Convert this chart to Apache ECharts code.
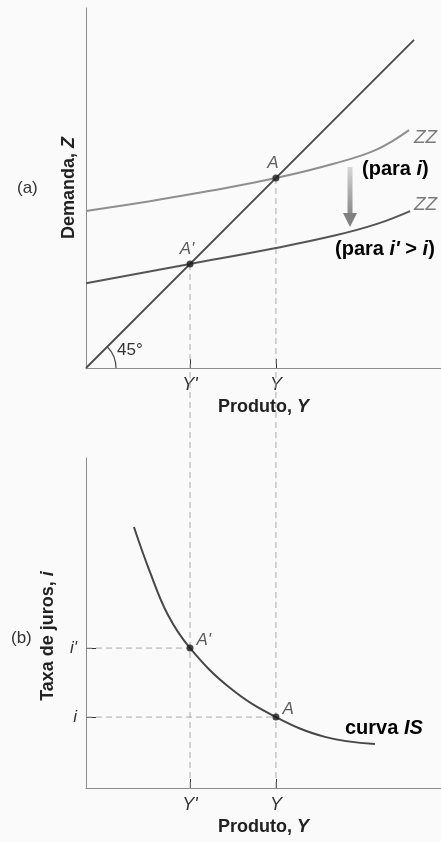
<!DOCTYPE html>
<html>
<head>
<meta charset="utf-8">
<script src="https://cdn.jsdelivr.net/npm/echarts@6/dist/echarts.min.js"></script>
<style>
  html, body { margin: 0; padding: 0; background: #fafafa; }
  #chart { width: 441px; height: 842px; }
</style>
</head>
<body>
<div id="chart"></div>
<script>
// Output levels on the horizontal axes: Y' and Y
const outputTicks = [29.3, 53.5];
const outputTickLabels = ["Y'", "Y"];
// Interest rates on the IS diagram: i' and i
const rateTicks = [42.4, 21.5];
const rateTickLabels = ["i'", "i"];

// Panel (a): 45-degree line and the two ZZ demand curves
const line45 = [[0, 0], [92.4, 92.4]];
const zzHigh = [[0, 44.2], [18, 47.0], [35, 49.9], [53.5, 53.5], [70, 57.6], [82, 61.6], [91, 67]];
const zzLow = [[0, 23.9], [29.3, 29.3], [53.5, 33.8], [70, 37.3], [82, 40.6], [91.3, 44.2]];
const eqTop = [[53.5, 53.5, 'A'], [29.3, 29.3, "A'"]];

// Panel (b): IS curve
const isCurve = [[13.5, 79.1], [18, 65.5], [23.1, 52.4], [29.3, 42.4], [40.6, 30.3], [53.5, 21.5], [67.3, 15.5], [81.4, 13.3]];
const eqBottom = [[29.3, 42.4, "A'"], [53.5, 21.5, 'A']];

// Layout
const FONT = '"Liberation Sans", Arial, Helvetica, sans-serif';
const LEFT = 86;
const TOP_A = 8, H_A = 360;          // panel (a) plot area
const TOP_B = 458, H_B = 330;        // panel (b) plot area
const X_MAX = 100;
const Z_MAX = H_A / (355 / X_MAX);   // equal pixel scale so the 45° line is drawn at 45°
const I_MAX = 100;
const GAP_UNITS = (TOP_B - (TOP_A + H_A)) / (H_B / I_MAX); // space between panels, in panel-(b) units

const guideStyle = { color: '#aaaaaa', width: 1, type: [6, 4] };

function lineSeries(data, x, y, style, extra) {
  return Object.assign({
    type: 'line', xAxisIndex: x, yAxisIndex: y, data: data,
    showSymbol: false, symbol: 'none', lineStyle: style, silent: true, z: 3
  }, extra || {});
}

function guide(data, idx, extra) {
  return lineSeries(data, idx, idx, guideStyle, Object.assign({ z: 1 }, extra || {}));
}

function tickLabel(values, labels) {
  return v => {
    const k = values.findIndex(t => Math.abs(t - v) < 1e-6);
    return k >= 0 ? labels[k] : '';
  };
}

function richSet(size) {
  return {
    b: { fontFamily: FONT, fontWeight: 'bold', fontSize: size, color: '#222' },
    bi: { fontFamily: FONT, fontWeight: 'bold', fontStyle: 'italic', fontSize: size, color: '#222' }
  };
}
const nameRich = richSet(18);
const noteRich = richSet(20);

function outputAxis(gridIndex) {
  return {
    type: 'value', gridIndex: gridIndex, min: 0, max: X_MAX,
    axisLine: { show: true, onZero: false, lineStyle: { color: '#8c8c8c', width: 1 } },
    axisTick: { show: true, inside: true, length: 9, customValues: outputTicks, lineStyle: { color: '#333', width: 1 } },
    axisLabel: {
      show: true, customValues: outputTicks, formatter: tickLabel(outputTicks, outputTickLabels),
      fontFamily: FONT, fontStyle: 'italic', fontSize: 18, color: '#333', margin: 8
    },
    splitLine: { show: false },
    name: '{b|Produto, }{bi|Y}', nameLocation: 'middle', nameGap: 30,
    nameTextStyle: { rich: nameRich }
  };
}

const option = {
  backgroundColor: '#fafafa',
  animation: false,
  grid: [
    { left: LEFT, top: TOP_A, width: 355, height: H_A },
    { left: LEFT, top: TOP_B, width: 355, height: H_B }
  ],
  xAxis: [outputAxis(0), outputAxis(1)],
  yAxis: [
    {
      type: 'value', gridIndex: 0, min: 0, max: Z_MAX,
      axisLine: { show: true, onZero: false, lineStyle: { color: '#8c8c8c', width: 1 } },
      axisTick: { show: false }, axisLabel: { show: false }, splitLine: { show: false },
      name: '{b|Demanda, }{bi|Z}', nameLocation: 'middle', nameRotate: 90, nameGap: 8,
      nameTextStyle: { rich: nameRich }
    },
    {
      type: 'value', gridIndex: 1, min: 0, max: I_MAX,
      axisLine: { show: true, onZero: false, lineStyle: { color: '#8c8c8c', width: 1 } },
      axisTick: { show: true, inside: true, length: 10, customValues: rateTicks, lineStyle: { color: '#333', width: 1 } },
      axisLabel: {
        show: true, customValues: rateTicks, formatter: tickLabel(rateTicks, rateTickLabels),
        fontFamily: FONT, fontStyle: 'italic', fontSize: 17, color: '#333', margin: 9
      },
      splitLine: { show: false },
      name: '{b|Taxa de juros, }{bi|i}', nameLocation: 'middle', nameRotate: 90, nameGap: 29,
      nameTextStyle: { rich: nameRich, padding: [0, 26, 0, 0] }
    }
  ],
  series: [
    // vertical guides from the equilibria in (a) down through (b)
    guide([[outputTicks[1], eqTop[0][1]], [outputTicks[1], 0]], 0),
    guide([[outputTicks[0], eqTop[1][1]], [outputTicks[0], 0]], 0),
    guide([[outputTicks[1], 0], [outputTicks[1], I_MAX + GAP_UNITS]], 1, { clip: false }),
    guide([[outputTicks[0], 0], [outputTicks[0], I_MAX + GAP_UNITS]], 1, { clip: false }),
    // horizontal guides to the interest-rate axis
    guide([[0, rateTicks[0]], [outputTicks[0], rateTicks[0]]], 1),
    guide([[0, rateTicks[1]], [outputTicks[1], rateTicks[1]]], 1),

    lineSeries(line45, 0, 0, { color: '#4a4a4a', width: 1.8 }),
    lineSeries(zzHigh, 0, 0, { color: '#8f8f8f', width: 2 }, { smooth: 0.4 }),
    lineSeries(zzLow, 0, 0, { color: '#555555', width: 2 }, { smooth: 0.4 }),
    lineSeries(isCurve, 1, 1, { color: '#474747', width: 2 }, { smooth: 0.4 }),

    {
      type: 'scatter', xAxisIndex: 0, yAxisIndex: 0, data: eqTop, symbolSize: 7, z: 5,
      itemStyle: { color: '#1a1a1a' },
      label: {
        show: true, position: 'top', distance: 3, offset: [-3, 0], formatter: p => p.data[2],
        fontFamily: FONT, fontStyle: 'italic', fontSize: 17, color: '#333'
      }
    },
    {
      type: 'scatter', xAxisIndex: 1, yAxisIndex: 1, data: eqBottom, symbolSize: 7, z: 5,
      itemStyle: { color: '#1a1a1a' },
      label: {
        show: true, position: 'right', distance: 3, offset: [0, -8], formatter: p => p.data[2],
        fontFamily: FONT, fontStyle: 'italic', fontSize: 17, color: '#333'
      }
    }
  ],
  graphic: [
    { type: 'text', left: 17, top: 180, style: { text: '(a)', font: '17px ' + FONT, fill: '#333' } },
    { type: 'text', left: 11, top: 630, style: { text: '(b)', font: '17px ' + FONT, fill: '#333' } },
    {
      type: 'arc', silent: true,
      shape: { cx: LEFT, cy: TOP_A + H_A, r: 30, startAngle: -Math.PI / 4, endAngle: 0, clockwise: true },
      style: { stroke: '#4a4a4a', lineWidth: 1.2, fill: null }
    },
    { type: 'text', left: 117, top: 342, style: { text: '45°', font: '17px ' + FONT, fill: '#333' } },
    { type: 'text', left: 414, top: 128, style: { text: 'ZZ', font: 'italic 19px ' + FONT, fill: '#7a7a7a' } },
    { type: 'text', left: 414, top: 195, style: { text: 'ZZ', font: 'italic 19px ' + FONT, fill: '#7a7a7a' } },
    {
      type: 'text', left: 362, top: 159,
      style: { text: '{b|(para }{bi|i}{b|)}', rich: noteRich }
    },
    {
      type: 'text', left: 335, top: 239,
      style: { text: '{b|(para }{bi|i\'}{b| > }{bi|i}{b|)}', rich: noteRich }
    },
    {
      type: 'text', left: 345, top: 718,
      style: { text: '{b|curva }{bi|IS}', rich: noteRich }
    },
    // downward shift arrow between the two ZZ curves
    {
      type: 'group', silent: true,
      children: [
        {
          type: 'rect', shape: { x: 347.5, y: 167, width: 5, height: 47 },
          style: {
            fill: { type: 'linear', x: 0, y: 0, x2: 0, y2: 1, colorStops: [{ offset: 0, color: '#d6d6d6' }, { offset: 1, color: '#8a8a8a' }] }
          }
        },
        {
          type: 'polygon', shape: { points: [[343, 213], [357, 213], [350, 227]] },
          style: { fill: '#808080' }
        }
      ]
    }
  ]
};

const chart = echarts.init(document.getElementById('chart'), null, { renderer: 'canvas' });
chart.setOption(option);
</script>
</body>
</html>
